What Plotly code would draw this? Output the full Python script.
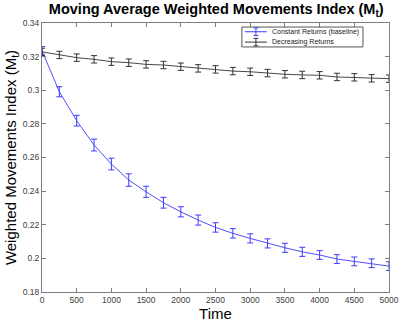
import plotly.graph_objects as go

time = [0, 250, 500, 750, 1000, 1250, 1500, 1750, 2000, 2250, 2500,
        2750, 3000, 3250, 3500, 3750, 4000, 4250, 4500, 4750, 5000]
constant_returns = [0.3235, 0.2991, 0.2819, 0.2674, 0.2561, 0.2466, 0.2396, 0.2331,
                    0.2277, 0.2228, 0.2184, 0.2149, 0.2119, 0.2089, 0.2063, 0.2039,
                    0.2020, 0.1996, 0.1982, 0.1971, 0.1954]
constant_err = [0.0025, 0.003, 0.0032, 0.0035, 0.0035, 0.0037, 0.0033, 0.0032,
                0.003, 0.003, 0.0028, 0.0028, 0.0027, 0.0027, 0.0027, 0.0027,
                0.0026, 0.0026, 0.0026, 0.0026, 0.0026]
decreasing_returns = [0.3228, 0.3210, 0.3194, 0.3184, 0.3170, 0.3164, 0.3154, 0.3150,
                      0.3140, 0.3130, 0.3124, 0.3114, 0.3110, 0.3102, 0.3095, 0.3091,
                      0.3089, 0.3079, 0.3077, 0.3071, 0.3069]
decreasing_err = [0.0022] * 21

series_names = ["Constant Returns (baseline)", "Decreasing Returns"]
series_colors = ["#3b3bff", "#333333"]

x_ticks = [0, 500, 1000, 1500, 2000, 2500, 3000, 3500, 4000, 4500, 5000]
y_ticks = [0.18, 0.2, 0.22, 0.24, 0.26, 0.28, 0.3, 0.32, 0.34]

FONT = "Liberation Sans, Arial, sans-serif"

fig = go.Figure()
for name, color, ys, errs in [
    (series_names[0], series_colors[0], constant_returns, constant_err),
    (series_names[1], series_colors[1], decreasing_returns, decreasing_err),
]:
    fig.add_trace(go.Scatter(
        x=time, y=ys, mode="lines", name=name, showlegend=False,
        line=dict(color=color, width=0.9),
        error_y=dict(type="data", array=errs, color=color, thickness=1, width=3),
    ))

axis_common = dict(
    showline=True, linecolor="#7f7f7f", linewidth=1, mirror="ticks",
    ticks="inside", ticklen=4, tickcolor="#7f7f7f", showgrid=False, zeroline=False,
    automargin=False,
    tickfont=dict(family=FONT, size=8.5, color="#404040"),
)

# Manual legend box (MATLAB style compact legend)
lx0, lx1, ly0, ly1 = 0.576, 0.925, 0.911, 0.985
shapes = [dict(type="rect", xref="paper", yref="paper", x0=lx0, x1=lx1, y0=ly0, y1=ly1,
               line=dict(color="#555555", width=1), fillcolor="white", layer="above")]
annotations = []
row_y = [0.9675, 0.929]
for i, (name, color) in enumerate(zip(series_names, series_colors)):
    yy = row_y[i]
    shapes.append(dict(type="line", xref="paper", yref="paper", x0=0.585, x1=0.648, y0=yy, y1=yy,
                       line=dict(color=color, width=1), layer="above"))
    shapes.append(dict(type="line", xref="paper", yref="paper", x0=0.6165, x1=0.6165,
                       y0=yy - 0.014, y1=yy + 0.014, line=dict(color=color, width=1), layer="above"))
    for dy in (-0.014, 0.014):
        shapes.append(dict(type="line", xref="paper", yref="paper", x0=0.6095, x1=0.6235,
                           y0=yy + dy, y1=yy + dy, line=dict(color=color, width=1), layer="above"))
    annotations.append(dict(text=name, xref="paper", yref="paper", x=0.657, y=yy,
                            xanchor="left", yanchor="middle", showarrow=False,
                            font=dict(family=FONT, size=7, color="#222222")))

fig.update_layout(
    width=399, height=322,
    margin=dict(l=42, r=10, t=23, b=30),
    paper_bgcolor="white", plot_bgcolor="white",
    title=dict(text="<b>Moving Average Weighted Movements Index (M<sub>t</sub>)</b>",
               x=0.542, xanchor="center", y=0.988, yanchor="top",
               font=dict(family=FONT, size=14.5, color="black")),
    xaxis=dict(range=[0, 5000], tickvals=x_ticks,
               title=dict(text="Time", standoff=4,
                          font=dict(family=FONT, size=15, color="black")),
               **axis_common),
    yaxis=dict(range=[0.18, 0.34], tickvals=y_ticks,
               title=dict(text="Weighted Movements Index (M<sub>t</sub>)", standoff=2,
                          font=dict(family=FONT, size=15, color="black")),
               **axis_common),
    shapes=shapes,
    annotations=annotations,
    showlegend=False,
)

fig.write_html("out.html", config={"displayModeBar": False},
               post_script="document.body.style.margin='0';")
